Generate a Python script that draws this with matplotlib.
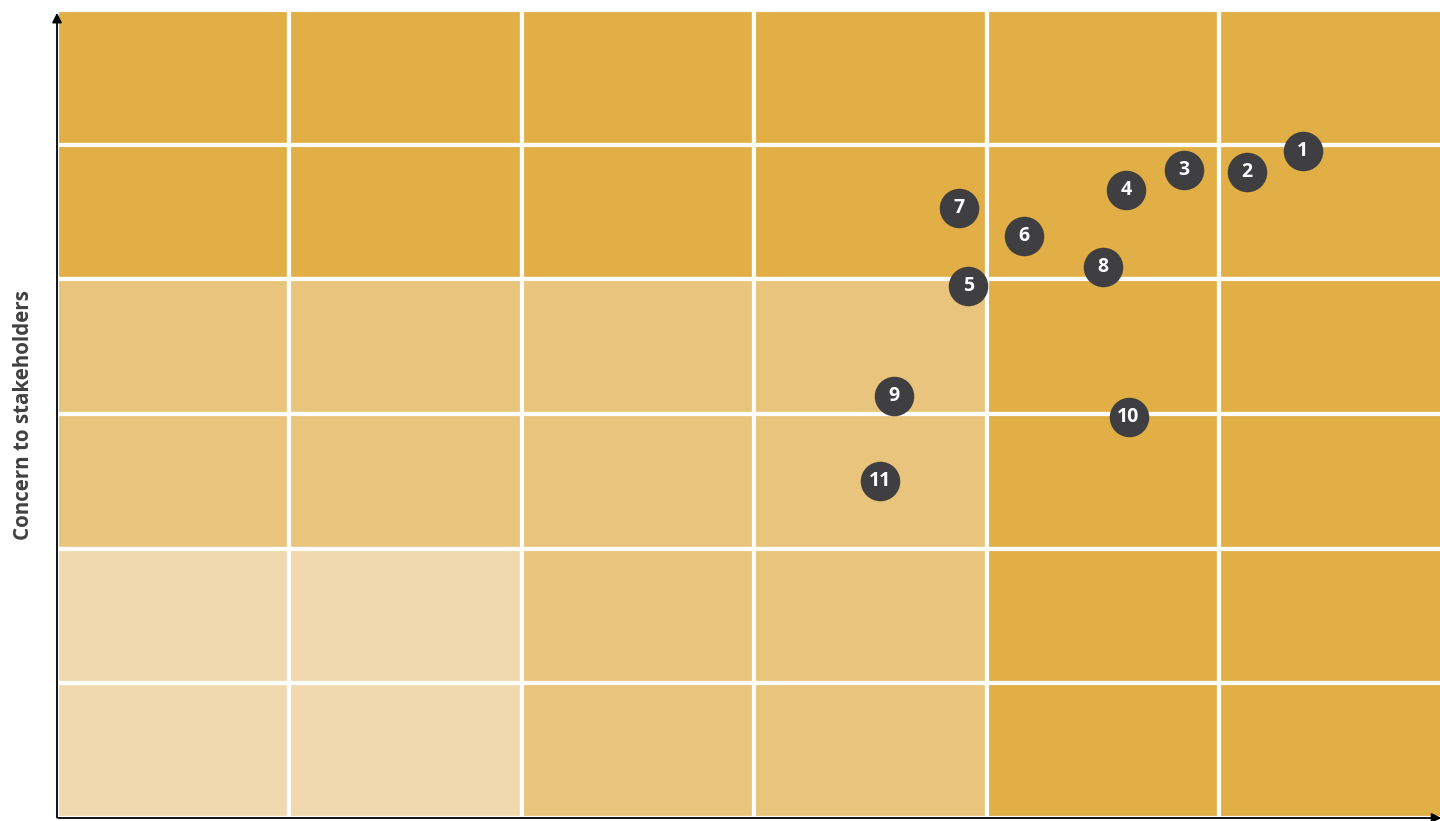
import matplotlib.pyplot as plt
from matplotlib.patches import Rectangle

plt.rcParams['font.family'] = ['Open Sans', 'DejaVu Sans']

# shade level for each cell, rows listed from top to bottom
DARK, MID, LIGHT = '#E1AF45', '#E9C47C', '#F0D9AE'
shade_rows = [
    [DARK, DARK, DARK, DARK, DARK, DARK],
    [DARK, DARK, DARK, DARK, DARK, DARK],
    [MID, MID, MID, MID, DARK, DARK],
    [MID, MID, MID, MID, DARK, DARK],
    [LIGHT, LIGHT, MID, MID, DARK, DARK],
    [LIGHT, LIGHT, MID, MID, DARK, DARK],
]

# issues: label, x (impact), y (concern to stakeholders)
labels = ['1', '2', '3', '4', '5', '6', '7', '8', '9', '10', '11']
x_vals = [5.36, 5.12, 4.85, 4.60, 3.92, 4.16, 3.88, 4.50, 3.60, 4.61, 3.54]
y_vals = [4.95, 4.80, 4.81, 4.66, 3.95, 4.32, 4.53, 4.09, 3.13, 2.98, 2.50]

fig = plt.figure(figsize=(14.4, 8.21), dpi=100)
ax = fig.add_axes([57 / 1440, 3 / 821, 1383 / 1440, 808 / 821])

n = len(shade_rows)
for r, row in enumerate(shade_rows):
    for c, color in enumerate(row):
        ax.add_patch(Rectangle((c, n - 1 - r), 1, 1, facecolor=color,
                               edgecolor='white', linewidth=3, zorder=1))

ax.scatter(x_vals, y_vals, s=810, color='#3F3F41', zorder=3, linewidths=0)
for lab, x, y in zip(labels, x_vals, y_vals):
    ax.text(x, y, lab, color='white', fontsize=14, fontweight='bold',
            ha='center', va='center', zorder=4)

# the last column runs past the right edge of the figure
ax.set_xlim(0, 5.95)
ax.set_ylim(0, 6)
ax.set_xticks([])
ax.set_yticks([])
for side in ['top', 'right', 'left', 'bottom']:
    ax.spines[side].set_visible(False)

# axis arrows
ax.annotate('', xy=(0, 1.0), xytext=(0, -0.003), xycoords='axes fraction',
            arrowprops=dict(arrowstyle='-|>', color='black', lw=1.3,
                            mutation_scale=14), annotation_clip=False)
ax.annotate('', xy=(1.003, 0), xytext=(-0.001, 0), xycoords='axes fraction',
            arrowprops=dict(arrowstyle='-|>', color='black', lw=1.3,
                            mutation_scale=14), annotation_clip=False)

fig.text(24 / 1440, 1 - 415 / 821, 'Concern to stakeholders', rotation=90,
         ha='center', va='center', fontsize=14.8, fontweight='bold',
         color='#404040')

fig.savefig('out.png', dpi=100)
